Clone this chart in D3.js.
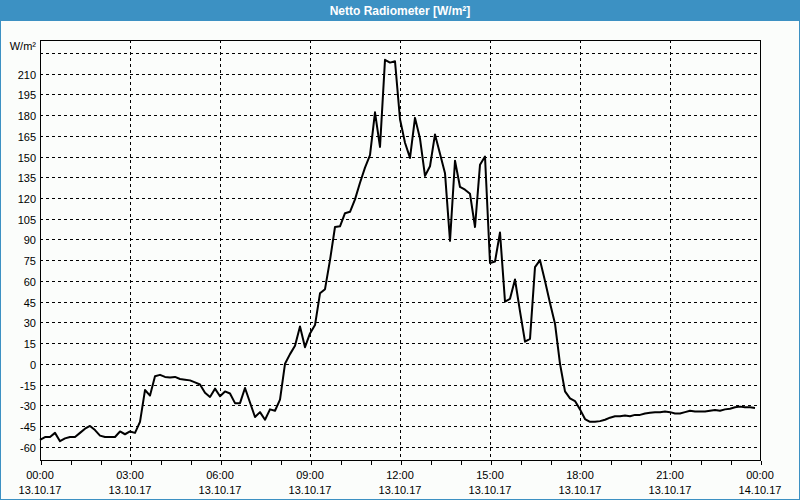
<!DOCTYPE html>
<html>
<head>
<meta charset="utf-8">
<script src="https://cdn.jsdelivr.net/npm/d3@7"></script>
<style>
  html, body { margin: 0; padding: 0; background: #fbfdfb; }
  svg { display: block; }
  text { font-family: "Liberation Sans", Arial, sans-serif; }
</style>
</head>
<body>
<svg id="chart" width="800" height="500"></svg>
<script>
// ---- data ----
const title = "Netto Radiometer [W/m²]";
const unitLabel = "W/m²";
const startTime = "2017-10-13T00:00:00";
const endTime = "2017-10-14T00:00:00";
const sampleMinutes = 10;
const values = [
  -55, -53, -53, -50, -56, -54, -53, -53, -50, -47, -45, -48,
  -52, -53, -53, -53, -49, -51, -49, -50, -42, -19, -23, -9,
  -8, -9.5, -10, -9.5, -11, -11.5, -12, -13.5, -15, -21, -24, -18,
  -23.5, -20, -21.5, -28.5, -28.5, -17.5, -28, -38.5, -35, -40.5, -33, -34,
  -26, 0, 7, 13, 27, 12, 22, 28, 51, 54, 75, 99,
  99.5, 109, 110, 119, 131, 142, 151, 182, 157, 220, 218, 219,
  177, 160, 149, 178, 163, 136, 143, 166, 152, 138, 89, 147,
  128, 126, 123, 99, 144, 150, 73, 74, 95, 45, 47, 61,
  38, 16, 18, 70, 75, 60, 44, 29, 0, -20, -25, -27,
  -33, -40, -42, -42, -41.5, -40.5, -39, -38, -38, -37.5, -38, -37,
  -37, -36, -35.5, -35, -35, -34.5, -35, -36, -36, -35, -34, -34.5,
  -34.5, -34.5, -34, -33.5, -34, -33, -32.5, -31.5, -31, -31.5, -31.5, -32
];
const yTicks = [-60, -45, -30, -15, 0, 15, 30, 45, 60, 75, 90, 105, 120, 135, 150, 165, 180, 195, 210, 225];
const yTickLabels = ["-60", "-45", "-30", "-15", "0", "15", "30", "45", "60", "75", "90", "105", "120", "135", "150", "165", "180", "195", "210", ""];
const xTickLabels = [
  ["00:00", "13.10.17"], ["03:00", "13.10.17"], ["06:00", "13.10.17"],
  ["09:00", "13.10.17"], ["12:00", "13.10.17"], ["15:00", "13.10.17"],
  ["18:00", "13.10.17"], ["21:00", "13.10.17"], ["00:00", "14.10.17"]
];
const yDomain = [-70, 234];

// ---- layout ----
const W = 800, H = 500;
const m = { left: 40, right: 760, top: 40, bottom: 460 };
const svg = d3.select("#chart");

const t0 = new Date(startTime), t1 = new Date(endTime);
const data = values.map((v, i) => ({ t: new Date(t0.getTime() + i * sampleMinutes * 60000), v }));

const x = d3.scaleTime().domain([t0, t1]).range([m.left, m.right]);
const y = d3.scaleLinear().domain(yDomain).range([m.bottom + 0.5, m.top + 0.5]);

// background + border
svg.append("rect").attr("x", 0).attr("y", 0).attr("width", W).attr("height", H).attr("fill", "#fbfdfb");
svg.append("rect").attr("x", 0.5).attr("y", 0.5).attr("width", W - 1).attr("height", H - 1)
  .attr("fill", "none").attr("stroke", "#3c91c3").attr("stroke-width", 1);
svg.append("rect").attr("x", 0).attr("y", 0).attr("width", W).attr("height", 21).attr("fill", "#3c91c3");
svg.append("text").attr("x", W / 2).attr("y", 15).attr("text-anchor", "middle")
  .attr("fill", "#ffffff").attr("font-weight", "bold").attr("font-size", 12).text(title);

// horizontal grid
const gy = svg.append("g");
gy.selectAll("line").data(yTicks).join("line")
  .attr("x1", m.left).attr("x2", m.right)
  .attr("y1", d => Math.round(y(d)) + 0.5).attr("y2", d => Math.round(y(d)) + 0.5)
  .attr("stroke", "#000").attr("stroke-dasharray", "3,3").attr("shape-rendering", "crispEdges");

// vertical grid every 3h
const majorTicks = x.ticks(d3.timeHour.every(3));
svg.append("g").selectAll("line").data(majorTicks.slice(1, -1)).join("line")
  .attr("x1", d => Math.round(x(d)) + 0.5).attr("x2", d => Math.round(x(d)) + 0.5)
  .attr("y1", m.top).attr("y2", m.bottom)
  .attr("stroke", "#000").attr("stroke-dasharray", "3,3").attr("shape-rendering", "crispEdges");

// frame
svg.append("rect").attr("x", m.left + 0.5).attr("y", m.top + 0.5)
  .attr("width", m.right - m.left).attr("height", m.bottom - m.top)
  .attr("fill", "none").attr("stroke", "#000").attr("shape-rendering", "crispEdges");

// y labels
svg.append("g").selectAll("text").data(yTicks).join("text")
  .attr("x", 36).attr("y", d => Math.round(y(d)) + 4.5)
  .attr("text-anchor", "end").attr("font-size", 11).attr("fill", "#000")
  .text((d, i) => yTickLabels[i]);
svg.append("text").attr("x", 36).attr("y", 50).attr("text-anchor", "end")
  .attr("font-size", 11).attr("fill", "#000").text(unitLabel);

// x axis (hour ticks)
const xAxis = d3.axisBottom(x).ticks(d3.timeHour.every(1)).tickSize(4).tickFormat("");
const gx = svg.append("g").attr("transform", `translate(0.5,${m.bottom + 0.5})`).call(xAxis);
gx.select(".domain").remove();
gx.selectAll(".tick line").attr("stroke", "#000").attr("shape-rendering", "crispEdges");

const lab = svg.append("g").selectAll("g").data(majorTicks).join("g")
  .attr("transform", d => `translate(${x(d)},0)`);
lab.append("text").attr("y", 479).attr("text-anchor", "middle").attr("font-size", 11)
  .attr("fill", "#000").text((d, i) => xTickLabels[i][0]);
lab.append("text").attr("y", 494).attr("text-anchor", "middle").attr("font-size", 11)
  .attr("fill", "#000").text((d, i) => xTickLabels[i][1]);

// line
const line = d3.line().x(d => x(d.t)).y(d => y(d.v));
svg.append("path").datum(data).attr("d", line)
  .attr("fill", "none").attr("stroke", "#000").attr("stroke-width", 2).attr("stroke-linejoin", "round");
</script>
</body>
</html>
